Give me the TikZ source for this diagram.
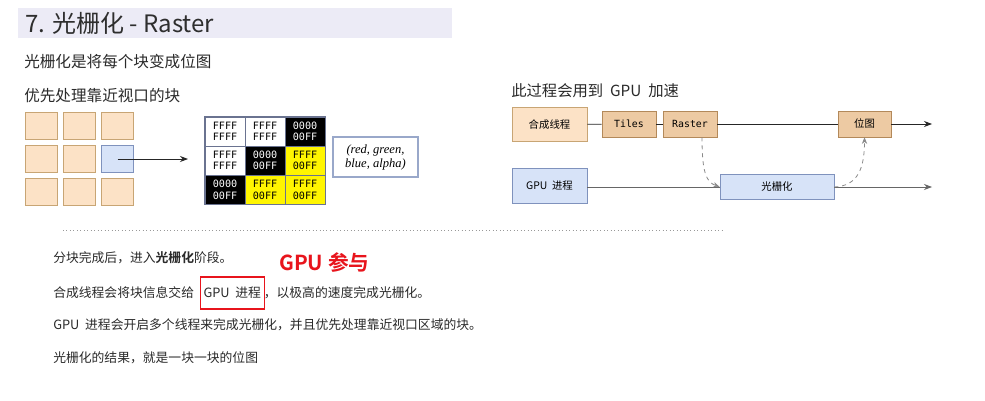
\documentclass[tikz,border=0pt]{standalone}
\usepackage{fontspec}
\setmainfont{Noto Sans CJK SC}[BoldFont={Noto Sans CJK SC Bold}]
\setmonofont{DejaVu Sans Mono}
\newfontfamily\serifit{Liberation Serif}
\usetikzlibrary{arrows.meta}
\definecolor{banner}{HTML}{ECEBF6}
\definecolor{txt}{HTML}{2A2A2A}
\definecolor{tileF}{HTML}{FCE2C6}
\definecolor{tileB}{HTML}{C8A574}
\definecolor{blueF}{HTML}{D7E3F8}
\definecolor{blueB}{HTML}{7F92BD}
\definecolor{tanF}{HTML}{EDCAA3}
\definecolor{tanB}{HTML}{B3895A}
\definecolor{ylw}{HTML}{FFF500}
\definecolor{gridB}{HTML}{6A7390}
\definecolor{redc}{HTML}{E8141C}
\definecolor{dashc}{HTML}{8A8A8A}
\tikzset{
  tilebox/.style={draw=tileB, fill=tileF, minimum width=24pt, minimum height=20.25pt, inner sep=0},
  bluetile/.style={draw=blueB, fill=blueF, minimum width=24pt, minimum height=20.25pt, inner sep=0},
  cellbase/.style={draw=gridB, minimum width=30pt, minimum height=21.75pt, inner sep=0, align=center,
     font=\ttfamily\fontsize{7.6}{8.6}\selectfont},
  cw/.style={cellbase, fill=white, text=black},
  ck/.style={cellbase, fill=black, text=white},
  cy/.style={cellbase, fill=ylw, text=black},
  compbox/.style={draw=tileB, fill=tileF, minimum width=56.25pt, minimum height=25.5pt, inner sep=0,
     font=\fontsize{7.8}{9}\selectfont},
  tanbox/.style={draw=tanB, fill=tanF, minimum width=40.5pt, minimum height=19.5pt, inner sep=0,
     font=\ttfamily\fontsize{7.4}{9}\selectfont},
  gpubox/.style={draw=blueB, fill=blueF, minimum width=56.25pt, minimum height=26.25pt, inner sep=0,
     font=\fontsize{7.8}{9}\selectfont},
  conn/.style={draw=black!85, line width=0.6pt},
  connG/.style={draw=black!60, line width=0.6pt},
  tipA/.style={-{Stealth[length=6pt,width=4.5pt]}},
  dashconn/.style={draw=dashc, dashed, line width=0.6pt, -{Stealth[length=5pt,width=4pt]}},
  bodytxt/.style={anchor=west, inner sep=0, text=txt, font=\fontsize{9.6}{11}\selectfont},
}
\begin{document}
\begin{tikzpicture}[x=0.75pt,y=-0.75pt]
\useasboundingbox[fill=white] (0,0) rectangle (985,400);

% title banner
\fill[banner] (18,8) rectangle (452,38);
\node[anchor=west, inner sep=0, text=black!82, font=\fontsize{18}{21}\selectfont] (title) at (25,23) {7. 光栅化 - Raster};
\node[anchor=west, inner sep=0, text=txt, font=\fontsize{11.7}{14}\selectfont] (t1) at (24,62) {光栅化是将每个块变成位图};
\node[anchor=west, inner sep=0, text=txt, font=\fontsize{11.7}{14}\selectfont] (t2) at (24,96) {优先处理靠近视口的块};

% tiles
\node[tilebox] (a11) at (41,126) {};
\node[tilebox] (a12) at (79.5,126) {};
\node[tilebox] (a13) at (117.5,126) {};
\node[tilebox] (a21) at (41,159) {};
\node[tilebox] (a22) at (79.5,159) {};
\node[bluetile] (a23) at (117.5,159) {};
\node[tilebox] (a31) at (41,191.5) {};
\node[tilebox] (a32) at (79.5,191.5) {};
\node[tilebox] (a33) at (117.5,191.5) {};
\coordinate (aend) at (188,159);
\draw[conn, tipA] (a23.center) -- (aend);

% pixel grid
\node[cw] (p11) at (225,131.5) {FFFF\\FFFF};
\node[cw] (p12) at (265,131.5) {FFFF\\FFFF};
\node[ck] (p13) at (305,131.5) {0000\\00FF};
\node[cw] (p21) at (225,160.5) {FFFF\\FFFF};
\node[ck] (p22) at (265,160.5) {0000\\00FF};
\node[cy] (p23) at (305,160.5) {FFFF\\00FF};
\node[ck] (p31) at (225,190) {0000\\00FF};
\node[cy] (p32) at (265,190) {FFFF\\00FF};
\node[cy] (p33) at (305,190) {FFFF\\00FF};
\draw[draw=gridB, line width=0.8pt] (p11.north west) rectangle (p33.south east);

\node[draw=blueB!80, line width=0.8pt, fill=white, minimum width=63.75pt, minimum height=30pt, inner sep=0, align=center,
  font=\serifit\itshape\fontsize{9.4}{10.5}\selectfont] (rgba) at (375.5,157) {(red, green,\\ blue, alpha)};

% right diagram
\node[anchor=west, inner sep=0, text=txt, font=\fontsize{11.5}{14}\selectfont] (head) at (511,91) {此过程会用到\ \ GPU\ \ 加速};
\node[compbox] (comp) at (549.5,124.5) {合成线程};
\node[tanbox] (tiles) at (629,124) {Tiles};
\node[tanbox] (raster) at (690,124) {Raster};
\node[tanbox, minimum width=39.75pt, font=\fontsize{7.8}{9}\selectfont] (bitmap) at (864.5,124) {位图};
\coordinate (end1) at (932,124);
\node[gpubox] (gpu) at (549.5,185.5) {GPU\ \ 进程};
\node[gpubox, minimum width=85.5pt, minimum height=18.75pt] (gpur) at (777,187) {光栅化};
\coordinate (end2) at (932,187);

\draw[conn] (comp) -- (tiles);
\draw[conn] (tiles) -- (raster);
\draw[conn] (raster) -- (bitmap);
\draw[conn, tipA] (bitmap) -- (end1);
\draw[connG] (gpu.east |- gpur.west) -- (gpur.west);
\draw[connG, tipA] (gpur) -- (end2);

\draw[dashconn] ([xshift=9pt]raster.south) .. controls (702,172) and (706,182) .. (gpur.west);
\draw[dashconn] (gpur.east) .. controls (858,186) and (864.5,168) .. (bitmap.south);

% bottom text
\draw[draw=black!40, dotted, line width=0.6pt] (63,230) -- (725,230);
\node[bodytxt] (l1) at (53,258) {分块完成后，进入\textbf{光栅化}阶段。};
\node[anchor=west, inner sep=0, text=redc, font=\bfseries\fontsize{15.5}{18}\selectfont] (red) at (279,263) {GPU 参与};
\node[bodytxt] (l2a) at (53,293) {合成线程会将块信息交给};
\node[anchor=west, draw=redc, line width=0.8pt, inner xsep=2.5pt, minimum height=24pt, text=txt,
  font=\fontsize{9.6}{11}\selectfont] (l2b) at ([xshift=4pt]l2a.east) {GPU\ \ 进程};
\node[bodytxt] (l2c) at ([xshift=-1pt]l2b.east) {，以极高的速度完成光栅化。};
\node[bodytxt] (l3) at (53,325) {GPU\ \ 进程会开启多个线程来完成光栅化，并且优先处理靠近视口区域的块。};
\node[bodytxt] (l4) at (53,358) {光栅化的结果，就是一块一块的位图};
\end{tikzpicture}
\end{document}
